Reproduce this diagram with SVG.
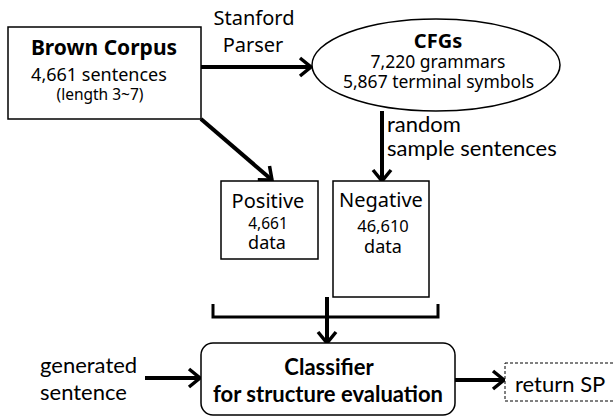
<svg xmlns="http://www.w3.org/2000/svg" width="613" height="417" viewBox="0 0 613 417">
<defs>
<marker id="arr" markerUnits="userSpaceOnUse" viewBox="0 0 16 22" markerWidth="16" markerHeight="22" refX="13" refY="11" orient="auto">
<path d="M2,2 L13,11 L2,20" fill="none" stroke="#000" stroke-width="3.5" stroke-linejoin="miter"/>
</marker>
<style>
.box{fill:#fff;stroke:#000;stroke-width:1.5}
.m{font-family:"Noto Sans","Open Sans","DejaVu Sans",sans-serif;fill:#000}
.c{font-family:Lato,"Open Sans","Liberation Sans",sans-serif;fill:#000}
.b{font-weight:bold}
.mid{text-anchor:middle}
.con{stroke:#000;stroke-width:4;fill:none}
</style>
</defs>
<rect width="613" height="417" fill="#fff"/>
<g id="connectors">
<line class="con" x1="201" y1="67" x2="311" y2="67" marker-end="url(#arr)"/>
<line class="con" x1="201" y1="119" x2="272" y2="180" marker-end="url(#arr)"/>
<line class="con" x1="382" y1="111" x2="382" y2="181" marker-end="url(#arr)"/>
<path d="M213,304 L213,317 L438,317 L438,304" fill="none" stroke="#000" stroke-width="3"/>
<line class="con" x1="327" y1="297" x2="327" y2="343" marker-end="url(#arr)"/>
<line class="con" x1="145" y1="378" x2="200" y2="378" marker-end="url(#arr)"/>
<line class="con" x1="455" y1="380" x2="504" y2="380" marker-end="url(#arr)"/>
<text class="m mid" font-size="20"><tspan x="254" y="25">Stanford</tspan><tspan x="253" y="52">Parser</tspan></text>
<text class="c" font-size="22"><tspan x="387" y="132">random</tspan><tspan x="387" y="156">sample sentences</tspan></text>
</g>
<g id="brown">
<rect class="box" x="8" y="27" width="193" height="92"/>
<text class="m mid"><tspan class="b" x="104" y="55" font-size="21">Brown Corpus</tspan><tspan x="99" y="81" font-size="18">4,661 sentences</tspan><tspan x="100" y="100" font-size="15.5">(length 3~7)</tspan></text>
</g>
<g id="cfgs">
<ellipse cx="436" cy="65" rx="124" ry="46" fill="#fff" stroke="#000" stroke-width="1.5"/>
<text class="m mid"><tspan class="b" x="438" y="48" font-size="20">CFGs</tspan><tspan x="438" y="68" font-size="17.5">7,220 grammars</tspan><tspan x="438.5" y="88" font-size="17.5">5,867 terminal symbols</tspan></text>
</g>
<g id="positive">
<rect class="box" x="221" y="181" width="97" height="78"/>
<text class="m mid"><tspan x="268" y="208" font-size="20">Positive</tspan><tspan x="268" y="229" font-size="15.5">4,661</tspan><tspan x="267" y="249" font-size="18">data</tspan></text>
</g>
<g id="negative">
<rect class="box" x="333" y="181" width="96" height="116"/>
<text class="m mid"><tspan x="381" y="207" font-size="20">Negative</tspan><tspan x="383" y="232" font-size="16.5">46,610</tspan><tspan x="383" y="253" font-size="18">data</tspan></text>
</g>
<g id="input">
<text class="c" font-size="22"><tspan x="40" y="373">generated</tspan><tspan x="40" y="400">sentence</tspan></text>
</g>
<g id="classifier">
<rect class="box" x="201" y="343" width="254" height="72" rx="12" ry="12"/>
<text class="c mid b" font-size="22"><tspan x="329" y="375">Classifier</tspan><tspan x="328" y="402">for structure evaluation</tspan></text>
</g>
<g id="return">
<rect x="505" y="363" width="120" height="38" fill="#fff" stroke="#000" stroke-width="1" stroke-dasharray="3,2"/>
<text class="c" x="515" y="392" font-size="22">return SP</text>
</g>
</svg>
